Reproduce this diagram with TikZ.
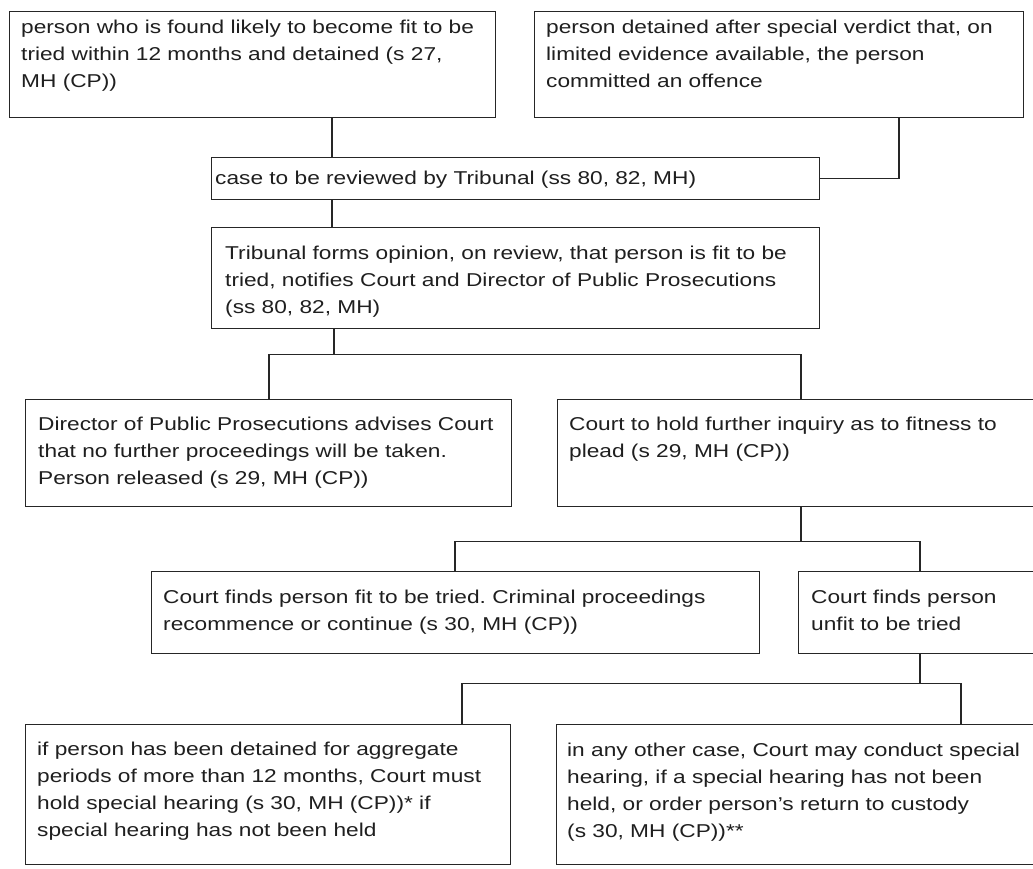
\documentclass[tikz,border=0pt]{standalone}
\usepackage{fontspec}
\setmainfont{Liberation Sans}[FakeStretch=1.22]
\usetikzlibrary{calc}
\frenchspacing
\begin{document}
\begin{tikzpicture}[x=1pt,y=1pt,
  box/.style={draw=black!85, line width=1.2pt, rectangle, inner sep=0pt, anchor=north west, fill=white},
  txt/.style={inner sep=0pt, anchor=north west, align=left, text=black!88,
    font=\fontsize{18.6}{27.2}\selectfont},
  conn/.style={draw=black!85, line width=1.2pt}]
\useasboundingbox (0,0) rectangle (1033,-868);
% boxes
\node[box, minimum width=486, minimum height=106] (A) at (9,-11) {};
\node[box, minimum width=489, minimum height=106] (B) at (534,-11) {};
\node[box, minimum width=608, minimum height=42] (C) at (211,-157) {};
\node[box, minimum width=608, minimum height=101] (D) at (211,-227) {};
\node[box, minimum width=486, minimum height=107] (E) at (25,-399) {};
\node[box, minimum width=490, minimum height=107] (F) at (557,-399) {};
\node[box, minimum width=608, minimum height=82] (G) at (151,-571) {};
\node[box, minimum width=250, minimum height=82] (H) at (798,-571) {};
\node[box, minimum width=485, minimum height=140] (I) at (25,-724) {};
\node[box, minimum width=492, minimum height=140] (J) at (556,-724) {};
% texts
\node[txt] (tA) at (21,-14.3) {\strut person who is found likely to become fit to be\\tried within 12 months and detained (s 27,\\MH (CP))};
\node[txt] (tB) at (546,-14.3) {\strut person detained after special verdict that, on\\limited evidence available, the person\\committed an offence};
\node[txt] (tC) at (215,-165) {\strut case to be reviewed by Tribunal (ss 80, 82, MH)};
\node[txt] (tD) at (225,-240) {\strut Tribunal forms opinion, on review, that person is fit to be\\tried, notifies Court and Director of Public Prosecutions\\(ss 80, 82, MH)};
\node[txt] (tE) at (38,-411) {\strut Director of Public Prosecutions advises Court\\that no further proceedings will be taken.\\Person released (s 29, MH (CP))};
\node[txt] (tF) at (569,-411) {\strut Court to hold further inquiry as to fitness to\\plead (s 29, MH (CP))};
\node[txt] (tG) at (163,-584) {\strut Court finds person fit to be tried. Criminal proceedings\\recommence or continue (s 30, MH (CP))};
\node[txt] (tH) at (811,-584) {\strut Court finds person\\unfit to be tried};
\node[txt] (tI) at (37,-736) {\strut if person has been detained for aggregate\\periods of more than 12 months, Court must\\hold special hearing (s 30, MH (CP))* if\\special hearing has not been held};
\node[txt] (tJ) at (567,-737) {\strut in any other case, Court may conduct special\\hearing, if a special hearing has not been\\held, or order person’s return to custody\\(s 30, MH (CP))**};
% connectors
\draw[conn] ([xshift=323]A.south west) -- ([xshift=121]C.north west);
\draw[conn] ([xshift=365]B.south west) |- (C.east);
\draw[conn] ([xshift=121]C.south west) -- ([xshift=121]D.north west);
\draw[conn] ([xshift=123]D.south west) -- ++(0,-25) coordinate (d2);
\draw[conn] ([xshift=244]E.north west) |- (d2) -| ([xshift=244]F.north west);
\draw[conn] ([xshift=244]F.south west) -- ++(0,-34) coordinate (f2);
\draw[conn] ([xshift=304]G.north west) |- (f2) -| ([xshift=122]H.north west);
\draw[conn] ([xshift=122]H.south west) -- ++(0,-29) coordinate (h2);
\draw[conn] ([xshift=437]I.north west) |- (h2) -| ([xshift=405]J.north west);
\end{tikzpicture}
\end{document}
